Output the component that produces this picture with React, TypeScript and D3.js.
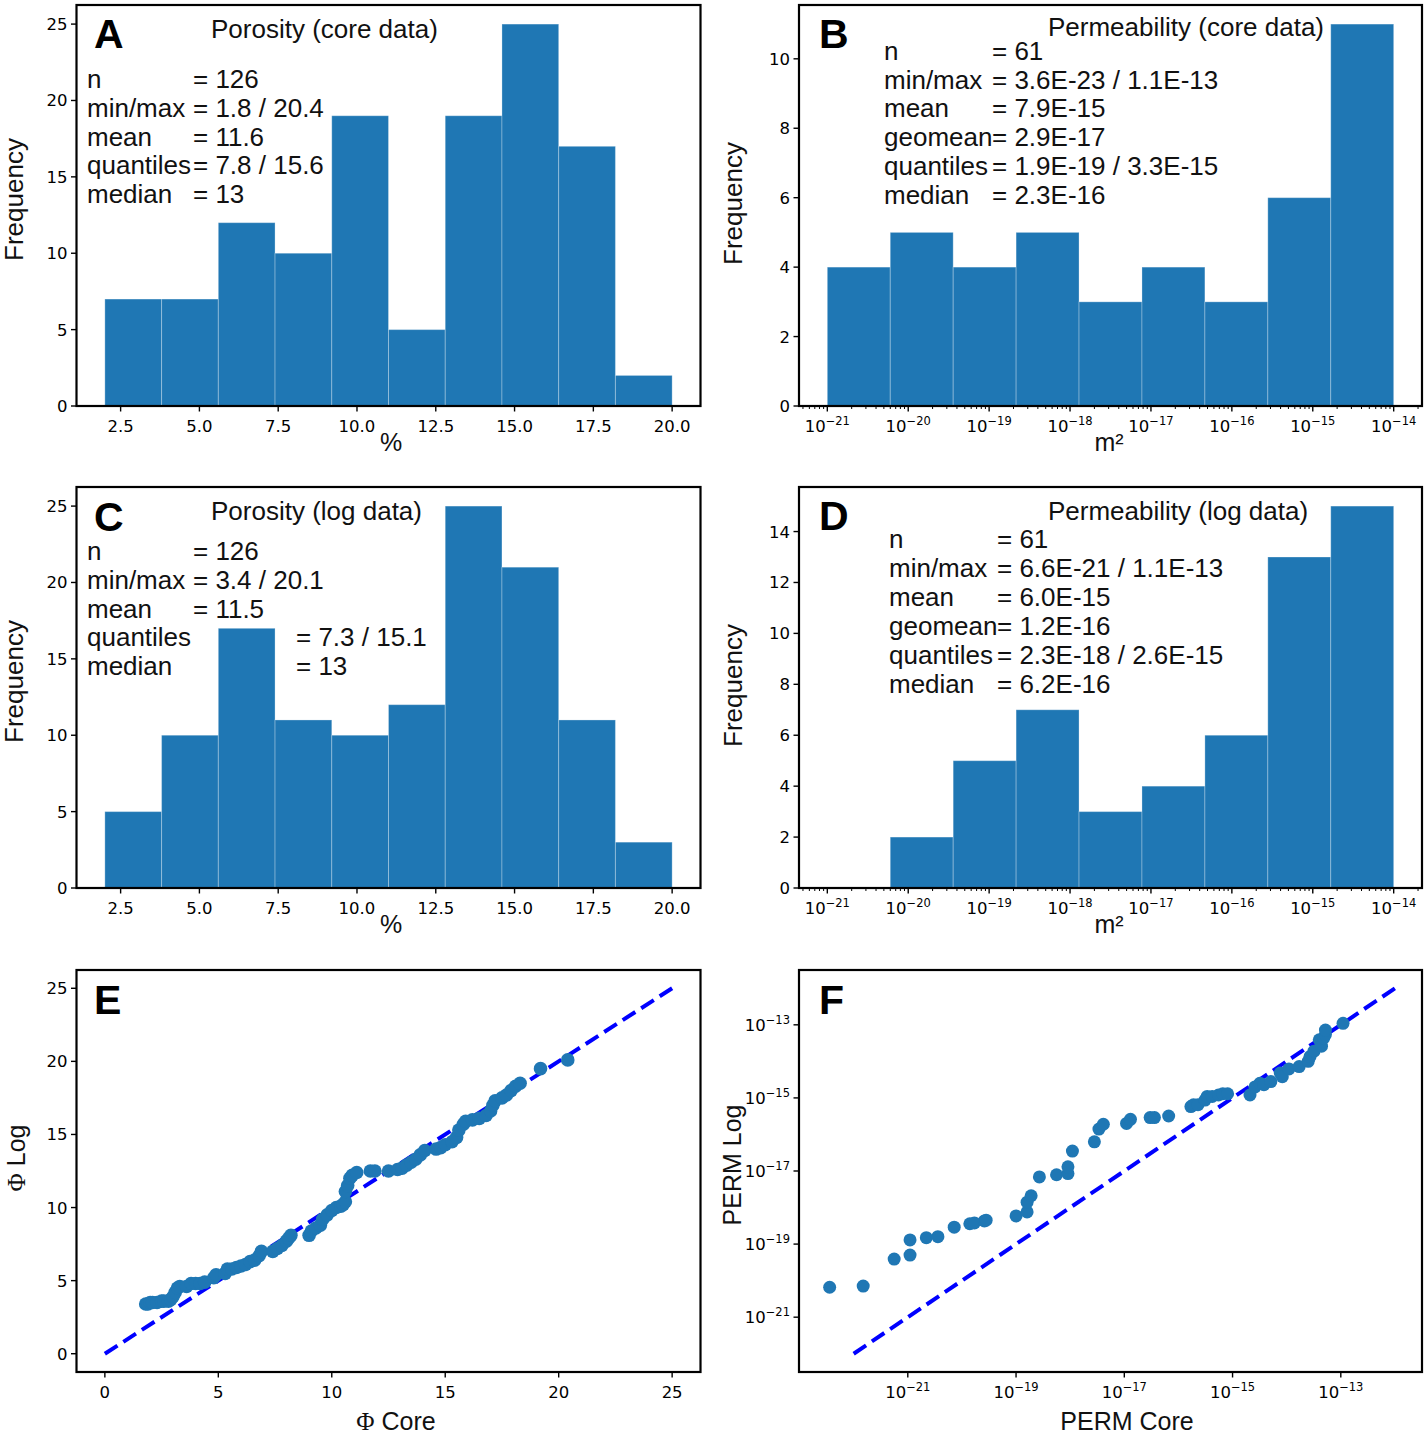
import React from "react";
import * as d3 from "d3";

// histogram counts
const poroCoreCounts = [7, 7, 12, 10, 19, 5, 19, 25, 17, 2];
const poroLogCounts = [5, 10, 17, 11, 10, 12, 25, 21, 11, 3];
const poroBinLimits = [2, 20];
const permCoreCounts = [4, 5, 4, 5, 3, 4, 3, 6, 11];
const permLogCounts = [0, 2, 5, 7, 3, 4, 6, 13, 15];
const permBinLimits = [1e-21, 1e-14];

const poroTicks = [2.5, 5, 7.5, 10, 12.5, 15, 17.5, 20];
const permTicks = [-21, -20, -19, -18, -17, -16, -15, -14];
const phiTicks = [0, 5, 10, 15, 20, 25];
const permQQTicks = [-21, -19, -17, -15, -13];

const poroCoreStats = [
  ["n", "= 126"],
  ["min/max", "= 1.8 / 20.4"],
  ["mean", "= 11.6"],
  ["quantiles", "= 7.8 / 15.6"],
  ["median", "= 13"],
];
const poroLogStats = [
  ["n", "= 126"],
  ["min/max", "= 3.4 / 20.1"],
  ["mean", "= 11.5"],
  ["quantiles", "= 7.3 / 15.1"],
  ["median", "= 13"],
];
const permCoreStats = [
  ["n", "= 61"],
  ["min/max", "= 3.6E-23 / 1.1E-13"],
  ["mean", "= 7.9E-15"],
  ["geomean", "= 2.9E-17"],
  ["quantiles", "= 1.9E-19 / 3.3E-15"],
  ["median", "= 2.3E-16"],
];
const permLogStats = [
  ["n", "= 61"],
  ["min/max", "= 6.6E-21 / 1.1E-13"],
  ["mean", "= 6.0E-15"],
  ["geomean", "= 1.2E-16"],
  ["quantiles", "= 2.3E-18 / 2.6E-15"],
  ["median", "= 6.2E-16"],
];

// sorted quantile pairs, porosity (core vs log)
const phiCore = [
  1.8, 1.9, 2.0, 2.1, 2.3, 2.5, 2.6, 2.8, 2.9, 3.0, 3.1, 3.2, 3.3, 3.6, 3.8, 4.0,
  4.2, 4.4, 4.8, 4.9, 5.3, 5.4, 5.6, 5.8, 6.0, 6.2, 6.4, 6.6, 6.8, 6.9, 7.4, 7.6,
  7.8, 8.0, 8.1, 8.2, 9.0, 9.1, 9.3, 9.5, 9.6, 9.8, 10.0, 10.2, 10.4, 10.5, 10.6,
  10.6, 10.7, 10.8, 10.9, 11.1, 11.7, 11.9, 12.5, 12.9, 13.1, 13.3, 13.5, 13.7,
  13.9, 14.1, 14.6, 14.8, 15.0, 15.3, 15.5, 15.6, 15.8, 15.9, 16.2, 16.5, 16.8,
  17.0, 17.1, 17.2, 17.5, 17.7, 17.9, 18.1, 18.3, 19.2, 20.4,
];
const phiLog = [
  3.4, 3.4, 3.5, 3.5, 3.5, 3.6, 3.6, 3.6, 3.7, 3.9, 4.2, 4.5, 4.6, 4.6, 4.8, 4.8,
  4.8, 4.9, 5.2, 5.4, 5.5, 5.8, 5.8, 5.9, 6.0, 6.1, 6.3, 6.4, 6.7, 7.0, 7.0, 7.2,
  7.4, 7.7, 7.9, 8.1, 8.1, 8.4, 8.6, 8.8, 9.2, 9.5, 9.8, 10.0, 10.1, 10.2, 10.4,
  11.1, 11.5, 12.0, 12.2, 12.4, 12.5, 12.5, 12.5, 12.6, 12.7, 12.9, 13.1, 13.3,
  13.6, 13.9, 14.0, 14.1, 14.3, 14.5, 14.8, 15.3, 15.7, 15.9, 16.0, 16.1, 16.3,
  16.6, 17.0, 17.3, 17.5, 17.7, 18.0, 18.3, 18.5, 19.5, 20.1,
];

// sorted quantile pairs, permeability in m2 (core vs log)
const permCore = [
  3.6e-23, 1.5e-22, 5.6e-22, 1.1e-21, 1.1e-21, 2.2e-21, 3.6e-21, 7.2e-21, 1.4e-20,
  1.7e-20, 2.6e-20, 2.8e-20, 1.0e-19, 1.6e-19, 1.6e-19, 1.9e-19, 2.7e-19, 5.6e-19,
  9.1e-19, 9.1e-19, 1.1e-18, 2.8e-18, 3.4e-18, 4.1e-18, 1.1e-17, 1.3e-17, 3.0e-17,
  3.6e-17, 6.6e-17, 1.7e-16, 1.9e-16, 2.3e-16, 3.1e-16, 3.4e-16, 4.2e-16, 5.5e-16,
  6.6e-16, 8.1e-16, 2.1e-15, 2.6e-15, 3.2e-15, 3.8e-15, 5.1e-15, 7.6e-15, 8.3e-15,
  1.1e-14, 1.7e-14, 2.5e-14, 2.7e-14, 3.2e-14, 4.0e-14, 4.4e-14, 4.8e-14, 5.2e-14,
  5.2e-14, 1.1e-13,
];
const permLog = [
  6.6e-21, 7.1e-21, 3.9e-20, 5.0e-20, 1.3e-19, 1.5e-19, 1.6e-19, 2.9e-19, 3.6e-19,
  3.8e-19, 4.3e-19, 4.5e-19, 5.9e-19, 7.6e-19, 1.4e-18, 2.1e-18, 6.9e-18, 7.9e-18,
  8.5e-18, 1.3e-17, 3.5e-17, 6.3e-17, 1.4e-16, 1.9e-16, 2.0e-16, 2.6e-16, 2.9e-16,
  2.9e-16, 3.2e-16, 5.8e-16, 6.5e-16, 6.5e-16, 8.7e-16, 1.1e-15, 1.1e-15, 1.2e-15,
  1.3e-15, 1.3e-15, 1.2e-15, 2.0e-15, 2.5e-15, 2.3e-15, 2.8e-15, 4.8e-15, 3.8e-15,
  6.2e-15, 7.2e-15, 1.0e-14, 1.35e-14, 1.9e-14, 3.9e-14, 2.6e-14, 4.3e-14, 5.4e-14,
  7.2e-14, 1.1e-13,
];

const FONT = "'Liberation Sans', Arial, Helvetica, sans-serif";
const TICK_FONT = "'DejaVu Sans', sans-serif";
const BLUE = "#1f77b4";

const colL = [76.5, 700.5];
const colR = [799, 1422];
const rows = [
  [5, 406],
  [487, 888],
  [970, 1372],
];

const sup = (e: number) => (
  <>
    <tspan>10</tspan>
    <tspan dy={-7} fontSize={11.5}>
      {"\u2212" + Math.abs(e)}
    </tspan>
  </>
);

function Frame({ x0, x1, y0, y1 }: any) {
  return (
    <rect x={x0} y={y0} width={x1 - x0} height={y1 - y0} fill="none" stroke="#000" strokeWidth={2.2} />
  );
}

function XTicks({ ticks, pos, y1, label, minor }: any) {
  return (
    <g fontFamily={TICK_FONT} fontSize={16.5} textAnchor="middle">
      {(minor || []).map((m: number, i: number) => (
        <line key={"m" + i} x1={m} x2={m} y1={y1} y2={y1 + 3} stroke="#000" strokeWidth={1} />
      ))}
      {ticks.map((t: any, i: number) => (
        <g key={i}>
          <line x1={pos(t)} x2={pos(t)} y1={y1} y2={y1 + 5.5} stroke="#000" strokeWidth={1.4} />
          <text x={pos(t)} y={y1 + 26}>
            {label(t)}
          </text>
        </g>
      ))}
    </g>
  );
}

function YTicks({ ticks, pos, x0, label }: any) {
  return (
    <g fontFamily={TICK_FONT} fontSize={16.5} textAnchor="end">
      {ticks.map((t: any, i: number) => (
        <g key={i}>
          <line x1={x0 - 5.5} x2={x0} y1={pos(t)} y2={pos(t)} stroke="#000" strokeWidth={1.4} />
          <text x={x0 - 9} y={pos(t) + 6}>
            {label(t)}
          </text>
        </g>
      ))}
    </g>
  );
}

function Stats({ rowsText, x, vx, y, dy }: any) {
  return (
    <g fontFamily={FONT} fontSize={26} fill="#111">
      {rowsText.map((r: string[], i: number) => (
        <g key={i}>
          <text x={x} y={y + i * dy}>
            {r[0]}
          </text>
          <text x={Array.isArray(vx) ? vx[i] : vx} y={y + i * dy}>
            {r[1]}
          </text>
        </g>
      ))}
    </g>
  );
}

function PoroHist({ counts, row, letter, title, stats, statsLayout }: any) {
  const [x0, x1] = colL;
  const [y0, y1] = rows[row];
  const x = d3.scaleLinear().domain([1.1, 20.9]).range([x0, x1]);
  const y = d3
    .scaleLinear()
    .domain([0, (d3.max(counts) as number) * 1.05])
    .range([y1, y0]);
  const step = (poroBinLimits[1] - poroBinLimits[0]) / counts.length;
  const edges = d3.range(counts.length + 1).map((i) => poroBinLimits[0] + i * step);
  return (
    <g>
      {counts.map((c: number, i: number) =>
        c > 0 ? (
          <rect
            key={i}
            x={x(edges[i])}
            y={y(c)}
            width={x(edges[i + 1]) - x(edges[i])}
            height={y(0) - y(c)}
            fill={BLUE}
            stroke="rgba(255,255,255,0.28)"
            strokeWidth={1}
          />
        ) : null
      )}
      <Frame x0={x0} x1={x1} y0={y0} y1={y1} />
      <XTicks ticks={poroTicks} pos={x} y1={y1} label={(t: number) => d3.format(".1f")(t)} />
      <YTicks ticks={d3.range(0, 26, 5)} pos={y} x0={x0} label={(t: number) => String(t)} />
      <text x={94} y={y0 + (row === 0 ? 43 : 44)} fontFamily={FONT} fontWeight="bold" fontSize={41}>
        {letter}
      </text>
      <text x={211} y={y0 + 33} fontFamily={FONT} fontSize={26} fill="#111">
        {title}
      </text>
      <Stats rowsText={stats} {...statsLayout} />
      <text x={391} y={y1 + 45} fontFamily={FONT} fontSize={25} textAnchor="middle" fill="#111">
        %
      </text>
      <text
        transform={`translate(23,${(y0 + y1) / 2 - 6}) rotate(-90)`}
        fontFamily={FONT}
        fontSize={26}
        textAnchor="middle"
        fill="#111"
      >
        Frequency
      </text>
    </g>
  );
}

function PermHist({ counts, row, letter, title, stats, statsLayout, yStep }: any) {
  const [x0, x1] = colR;
  const [y0, y1] = rows[row];
  const x = d3
    .scaleLog()
    .domain([10 ** -21.35, 10 ** -13.65])
    .range([x0, x1]);
  const ymax = (d3.max(counts) as number) * 1.05;
  const y = d3.scaleLinear().domain([0, ymax]).range([y1, y0]);
  const lo = Math.log10(permBinLimits[0]);
  const hi = Math.log10(permBinLimits[1]);
  const edges = d3.range(counts.length + 1).map((i) => 10 ** (lo + ((hi - lo) * i) / counts.length));
  const minor: number[] = [];
  for (let e = -22; e <= -14; e++) {
    for (let k = 2; k <= 9; k++) {
      const v = k * 10 ** e;
      if (v > 10 ** -21.35 && v < 10 ** -13.65) minor.push(x(v));
    }
  }
  return (
    <g>
      {counts.map((c: number, i: number) =>
        c > 0 ? (
          <rect
            key={i}
            x={x(edges[i])}
            y={y(c)}
            width={x(edges[i + 1]) - x(edges[i])}
            height={y(0) - y(c)}
            fill={BLUE}
            stroke="rgba(255,255,255,0.28)"
            strokeWidth={1}
          />
        ) : null
      )}
      <Frame x0={x0} x1={x1} y0={y0} y1={y1} />
      <XTicks ticks={permTicks} pos={(t: number) => x(10 ** t)} y1={y1} label={sup} minor={minor} />
      <YTicks
        ticks={d3.range(0, Math.floor(ymax) + 1, yStep)}
        pos={y}
        x0={x0}
        label={(t: number) => String(t)}
      />
      <text x={819} y={y0 + 43} fontFamily={FONT} fontWeight="bold" fontSize={41}>
        {letter}
      </text>
      <text x={1048} y={y0 + (row === 0 ? 31 : 33)} fontFamily={FONT} fontSize={26} fill="#111">
        {title}
      </text>
      <Stats rowsText={stats} {...statsLayout} />
      <text x={1109} y={y1 + 45} fontFamily={FONT} fontSize={25} textAnchor="middle" fill="#111">
        m²
      </text>
      <text
        transform={`translate(742,${(y0 + y1) / 2 - 2}) rotate(-90)`}
        fontFamily={FONT}
        fontSize={26}
        textAnchor="middle"
        fill="#111"
      >
        Frequency
      </text>
    </g>
  );
}

function PoroQQ() {
  const [x0, x1] = colL;
  const [y0, y1] = rows[2];
  const x = d3.scaleLinear().domain([-1.25, 26.25]).range([x0, x1]);
  const y = d3.scaleLinear().domain([-1.25, 26.25]).range([y1, y0]);
  const line = d3.line<number>()((d3.range(2).map((i) => [x(i * 25), y(i * 25)]) as any));
  return (
    <g>
      <path d={line || ""} stroke="#0000ff" strokeWidth={4} strokeDasharray="15 7" fill="none" />
      {phiCore.map((v, i) => (
        <circle key={i} cx={x(v)} cy={y(phiLog[i])} r={6.8} fill={BLUE} />
      ))}
      <Frame x0={x0} x1={x1} y0={y0} y1={y1} />
      <XTicks ticks={phiTicks} pos={x} y1={y1} label={(t: number) => String(t)} />
      <YTicks ticks={phiTicks} pos={y} x0={x0} label={(t: number) => String(t)} />
      <text x={94} y={1014} fontFamily={FONT} fontWeight="bold" fontSize={41}>
        E
      </text>
      <text x={396} y={1430} fontFamily={FONT} fontSize={25} textAnchor="middle" fill="#111">
        <tspan fontFamily="'Liberation Serif', 'DejaVu Serif', serif">Φ</tspan> Core
      </text>
      <text
        transform={`translate(25,1158) rotate(-90)`}
        fontFamily={FONT}
        fontSize={25}
        textAnchor="middle"
        fill="#111"
      >
        <tspan fontFamily="'Liberation Serif', 'DejaVu Serif', serif">Φ</tspan> Log
      </text>
    </g>
  );
}

function PermQQ() {
  const [x0, x1] = colR;
  const [y0, y1] = rows[2];
  const x = d3
    .scaleLog()
    .domain([10 ** -23.01, 10 ** -11.5])
    .range([x0, x1]);
  const y = d3
    .scaleLog()
    .domain([10 ** -22.5, 10 ** -11.5])
    .range([y1, y0]);
  const ends = [1e-22, 1e-12];
  const line = d3.line<number>()(ends.map((v) => [x(v), y(v)]) as any);
  return (
    <g>
      <path d={line || ""} stroke="#0000ff" strokeWidth={4} strokeDasharray="15 7" fill="none" />
      {permCore.map((v, i) => (
        <circle key={i} cx={x(v)} cy={y(permLog[i])} r={6.5} fill={BLUE} />
      ))}
      <Frame x0={x0} x1={x1} y0={y0} y1={y1} />
      <XTicks ticks={permQQTicks} pos={(t: number) => x(10 ** t)} y1={y1} label={sup} />
      <YTicks ticks={permQQTicks} pos={(t: number) => y(10 ** t)} x0={x0} label={sup} />
      <text x={819} y={1014} fontFamily={FONT} fontWeight="bold" fontSize={41}>
        F
      </text>
      <text x={1127} y={1430} fontFamily={FONT} fontSize={25} textAnchor="middle" fill="#111">
        PERM Core
      </text>
      <text
        transform={`translate(741,1165) rotate(-90)`}
        fontFamily={FONT}
        fontSize={25}
        textAnchor="middle"
        fill="#111"
      >
        PERM Log
      </text>
    </g>
  );
}

export default function App() {
  return (
    <svg
      width={1428}
      height={1435}
      viewBox="0 0 1428 1435"
      style={{ position: "absolute", left: 0, top: 0, background: "#fff" }}
    >
      <rect width={1428} height={1435} fill="#fff" />
      <PoroHist
        counts={poroCoreCounts}
        row={0}
        letter="A"
        title="Porosity (core data)"
        stats={poroCoreStats}
        statsLayout={{ x: 87, vx: 193, y: 88, dy: 28.75 }}
      />
      <PermHist
        counts={permCoreCounts}
        row={0}
        letter="B"
        title="Permeability (core data)"
        stats={permCoreStats}
        statsLayout={{ x: 884, vx: 992, y: 60, dy: 28.7 }}
        yStep={2}
      />
      <PoroHist
        counts={poroLogCounts}
        row={1}
        letter="C"
        title="Porosity (log data)"
        stats={poroLogStats}
        statsLayout={{ x: 87, vx: [193, 193, 193, 296, 296], y: 560, dy: 28.75 }}
      />
      <PermHist
        counts={permLogCounts}
        row={1}
        letter="D"
        title="Permeability (log data)"
        stats={permLogStats}
        statsLayout={{ x: 889, vx: 997, y: 548, dy: 28.9 }}
        yStep={2}
      />
      <PoroQQ />
      <PermQQ />
    </svg>
  );
}
